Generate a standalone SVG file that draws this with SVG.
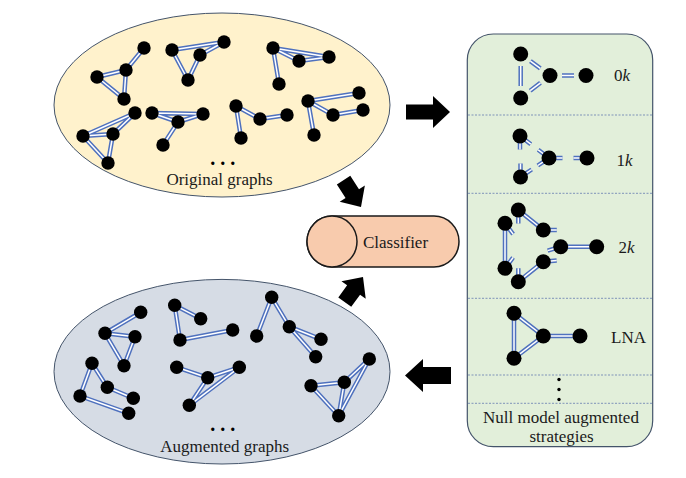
<svg xmlns="http://www.w3.org/2000/svg" xmlns:xlink="http://www.w3.org/1999/xlink" width="686" height="478" viewBox="0 0 686 478">
<style>
.eo{fill:none;stroke:#4f71be;stroke-width:4.5}
.ei{fill:none;stroke:#ffffff;stroke-width:1.5}
.n circle{fill:#000}
.t{font-family:"Liberation Serif","Times New Roman",serif;font-size:17px;fill:#1a1a1a}
.dots{font-family:"Liberation Serif","Times New Roman",serif;font-size:20px;font-weight:bold;fill:#000}
.sep{stroke:#7f93b8;stroke-width:1;stroke-dasharray:2 1.5}
.arrow{fill:#000}
</style>
<defs>
<path id="eA" d="M97,77L126,70M97,77L124,99M126,70L144,48M126,70L124,99"/>
<path id="eB" d="M172,50L224,42M172,50L188,80M188,80L200,55M200,55L224,42"/>
<path id="eC" d="M273,48L329,57M273,48L299,61M299,61L329,57M273,48L279,84"/>
<path id="eD" d="M83,136L135,113M83,136L113,134M113,134L135,113M83,136L108,163M113,134L108,163"/>
<path id="eE" d="M152,113L203,114M152,113L178,122M178,122L203,114M178,122L163,145"/>
<path id="eF" d="M236,106L260,119M260,119L287,115M236,106L241,138"/>
<path id="eG" d="M308,101L359,93M308,101L333,115M333,115L363,110M308,101L314,135"/>
<path id="eH" d="M105,333.3L140.7,312.3M105,333.3L135,336.7M105,333.3L124,365.7M135,336.7L124,365.7"/>
<path id="eI" d="M92,363.3L80,396M92,363.3L107.3,387.3M107.3,387.3L133.3,398.3M80,396L128.7,413.3"/>
<path id="eJ" d="M174.7,305.3L200.7,318.7M174.7,305.3L180,340M180,340L232.7,330"/>
<path id="eK" d="M176.7,367.3L207.7,377.7M207.7,377.7L239.3,367.3M207.7,377.7L189.3,405.3M189.3,405.3L239.3,367.3"/>
<path id="eL" d="M271.7,297.3L256.7,336M271.7,297.3L289.3,326.7M289.3,326.7L321,339.3M289.3,326.7L315.7,356.7"/>
<path id="eM" d="M311,385.7L344.3,382.3M344.3,382.3L369.3,359M311,385.7L338.7,415.7M344.3,382.3L338.7,415.7M338.7,415.7L369.3,359"/>
<path id="e0k" d="M530.4,61.1L540.3,68.4M520.7,66L520.7,86M530.2,90.7L540.5,82.8M562,75.5L574,75.5"/>
<path id="e1k" d="M524,139L530.8,144.2M520,141L520,149.5M545,155L538.2,149.8M544.8,160.8L537.8,165.5M554,158L562.5,158M582,158L573.5,158M520.5,172L520.5,163.5M524.7,174.2L531.7,169.5"/>
<path id="e2k" d="M518.3,210L543.3,230M505,223.3L505,268.3M560.7,246.7L596.7,246.7M543.3,261.7L518.3,281.7M518.3,215L518.3,223.5M508,227.3L513.1,234.1M548.3,230L556.8,230M555.9,248.2L547.7,250.6M548.3,261.2L556.7,260.4M508,264.3L513.1,257.5M518.3,276.7L518.3,268.2"/>
<path id="eLNA" d="M514,313.3L543.3,336M514,313.3L514,358.3M514,358.3L543.3,336M543.3,336L580,336"/>
</defs>

<g id="original-graphs">
<ellipse cx="222" cy="105" rx="168" ry="92" fill="#fff2cc" stroke="#44546a" stroke-width="1"/>
<g id="og1" class="n"><use href="#eA" class="eo"/><use href="#eA" class="ei"/>
<circle cx="97" cy="77" r="6.7"/><circle cx="126" cy="70" r="6.7"/><circle cx="144" cy="48" r="6.7"/><circle cx="124" cy="99" r="6.7"/></g>
<g id="og2" class="n"><use href="#eB" class="eo"/><use href="#eB" class="ei"/>
<circle cx="172" cy="50" r="6.7"/><circle cx="200" cy="55" r="6.7"/><circle cx="224" cy="42" r="6.7"/><circle cx="188" cy="80" r="6.7"/></g>
<g id="og3" class="n"><use href="#eC" class="eo"/><use href="#eC" class="ei"/>
<circle cx="273" cy="48" r="6.7"/><circle cx="299" cy="61" r="6.7"/><circle cx="329" cy="57" r="6.7"/><circle cx="279" cy="84" r="6.7"/></g>
<g id="og4" class="n"><use href="#eD" class="eo"/><use href="#eD" class="ei"/>
<circle cx="83" cy="136" r="6.7"/><circle cx="113" cy="134" r="6.7"/><circle cx="135" cy="113" r="6.7"/><circle cx="108" cy="163" r="6.7"/></g>
<g id="og5" class="n"><use href="#eE" class="eo"/><use href="#eE" class="ei"/>
<circle cx="152" cy="113" r="6.7"/><circle cx="203" cy="114" r="6.7"/><circle cx="178" cy="122" r="6.7"/><circle cx="163" cy="145" r="6.7"/></g>
<g id="og6" class="n"><use href="#eF" class="eo"/><use href="#eF" class="ei"/>
<circle cx="236" cy="106" r="6.7"/><circle cx="260" cy="119" r="6.7"/><circle cx="287" cy="115" r="6.7"/><circle cx="241" cy="138" r="6.7"/></g>
<g id="og7" class="n"><use href="#eG" class="eo"/><use href="#eG" class="ei"/>
<circle cx="308" cy="101" r="6.7"/><circle cx="359" cy="93" r="6.7"/><circle cx="333" cy="115" r="6.7"/><circle cx="363" cy="110" r="6.7"/><circle cx="314" cy="135" r="6.7"/></g>
<text class="dots" x="222.7" y="165" text-anchor="middle">. . .</text>
<text class="t" x="219.5" y="185" text-anchor="middle">Original graphs</text>
</g>

<g id="augmented-graphs">
<ellipse cx="222" cy="371.7" rx="168" ry="92.3" fill="#d6dce5" stroke="#44546a" stroke-width="1"/>
<g id="ag1" class="n"><use href="#eH" class="eo"/><use href="#eH" class="ei"/>
<circle cx="140.7" cy="312.3" r="6.7"/><circle cx="105" cy="333.3" r="6.7"/><circle cx="135" cy="336.7" r="6.7"/><circle cx="124" cy="365.7" r="6.7"/></g>
<g id="ag2" class="n"><use href="#eI" class="eo"/><use href="#eI" class="ei"/>
<circle cx="92" cy="363.3" r="6.7"/><circle cx="80" cy="396" r="6.7"/><circle cx="107.3" cy="387.3" r="6.7"/><circle cx="133.3" cy="398.3" r="6.7"/><circle cx="128.7" cy="413.3" r="6.7"/></g>
<g id="ag3" class="n"><use href="#eJ" class="eo"/><use href="#eJ" class="ei"/>
<circle cx="174.7" cy="305.3" r="6.7"/><circle cx="200.7" cy="318.7" r="6.7"/><circle cx="180" cy="340" r="6.7"/><circle cx="232.7" cy="330" r="6.7"/></g>
<g id="ag4" class="n"><use href="#eK" class="eo"/><use href="#eK" class="ei"/>
<circle cx="176.7" cy="367.3" r="6.7"/><circle cx="207.7" cy="377.7" r="6.7"/><circle cx="239.3" cy="367.3" r="6.7"/><circle cx="189.3" cy="405.3" r="6.7"/></g>
<g id="ag5" class="n"><use href="#eL" class="eo"/><use href="#eL" class="ei"/>
<circle cx="271.7" cy="297.3" r="6.7"/><circle cx="256.7" cy="336" r="6.7"/><circle cx="289.3" cy="326.7" r="6.7"/><circle cx="321" cy="339.3" r="6.7"/><circle cx="315.7" cy="356.7" r="6.7"/></g>
<g id="ag6" class="n"><use href="#eM" class="eo"/><use href="#eM" class="ei"/>
<circle cx="311" cy="385.7" r="6.7"/><circle cx="344.3" cy="382.3" r="6.7"/><circle cx="369.3" cy="359" r="6.7"/><circle cx="338.7" cy="415.7" r="6.7"/></g>
<text class="dots" x="222.7" y="431" text-anchor="middle">. . .</text>
<text class="t" x="224.7" y="452" text-anchor="middle">Augmented graphs</text>
</g>

<g id="classifier">
<path d="M332,216L434,216A25,25.5 0 0 1 434,267L332,267A25,25.5 0 0 1 332,216Z" fill="#f8cbad" stroke="#1a1a1a" stroke-width="1.5"/>
<ellipse cx="332" cy="241.5" rx="25" ry="25.5" fill="#f8cbad" stroke="#1a1a1a" stroke-width="1.5"/>
<text class="t" x="395.5" y="248" text-anchor="middle">Classifier</text>
</g>

<g id="strategies">
<rect x="467.3" y="34" width="185.4" height="412.7" rx="26" ry="26" fill="#e2efda" stroke="#44546a" stroke-width="1.2"/>
<g id="separators">
<line class="sep" x1="468" y1="115" x2="652" y2="115"/>
<line class="sep" x1="468" y1="193.3" x2="652" y2="193.3"/>
<line class="sep" x1="468" y1="298.3" x2="652" y2="298.3"/>
<line class="sep" x1="468" y1="375" x2="652" y2="375"/>
<line class="sep" x1="468" y1="403.3" x2="652" y2="403.3"/>
</g>
<g id="s0k" class="n"><use href="#e0k" class="eo"/><use href="#e0k" class="ei"/>
<circle cx="520.7" cy="54" r="7.5"/><circle cx="550" cy="75.5" r="7.5"/><circle cx="586" cy="75.5" r="7.5"/><circle cx="520.7" cy="98" r="7.5"/>
<text class="t" x="614" y="81">0<tspan font-style="italic">k</tspan></text></g>
<g id="s1k" class="n"><use href="#e1k" class="eo"/><use href="#e1k" class="ei"/>
<circle cx="520" cy="136" r="7.5"/><circle cx="549" cy="158" r="7.5"/><circle cx="587" cy="158" r="7.5"/><circle cx="520.5" cy="177" r="7.5"/>
<text class="t" x="616.5" y="166">1<tspan font-style="italic">k</tspan></text></g>
<g id="s2k" class="n"><use href="#e2k" class="eo"/><use href="#e2k" class="ei"/>
<circle cx="518.3" cy="210" r="7.5"/><circle cx="505" cy="223.3" r="7.5"/><circle cx="543.3" cy="230" r="7.5"/><circle cx="560.7" cy="246.7" r="7.5"/><circle cx="596.7" cy="246.7" r="7.5"/><circle cx="543.3" cy="261.7" r="7.5"/><circle cx="505" cy="268.3" r="7.5"/><circle cx="518.3" cy="281.7" r="7.5"/>
<text class="t" x="618.5" y="253">2<tspan font-style="italic">k</tspan></text></g>
<g id="sLNA" class="n"><use href="#eLNA" class="eo"/><use href="#eLNA" class="ei"/>
<circle cx="514" cy="313.3" r="7.5"/><circle cx="543.3" cy="336" r="7.5"/><circle cx="580" cy="336" r="7.5"/><circle cx="514" cy="358.3" r="7.5"/>
<text class="t" x="611" y="342.7">LNA</text></g>
<g id="vdots"><circle cx="559" cy="379.5" r="1.7"/><circle cx="559" cy="389.5" r="1.7"/><circle cx="559" cy="399.5" r="1.7"/></g>
<text class="t" x="561" y="422.7" text-anchor="middle">Null model augmented</text>
<text class="t" x="561.5" y="441.7" text-anchor="middle">strategies</text>
</g>

<g id="connectors" class="arrow">
<polygon transform="translate(450,112)" points="0,0 -17,-16 -17,-7.5 -44,-7.5 -44,7.5 -17,7.5 -17,16"/>
<polygon transform="translate(405,375.5) rotate(180)" points="0,0 -18,-16.5 -18,-8.5 -46,-8.5 -46,8.5 -18,8.5 -18,16.5"/>
<polygon transform="translate(361,207) rotate(57)" points="0,0 -16,-15 -16,-8 -32,-8 -32,8 -16,8 -16,15"/>
<polygon transform="translate(363,277) rotate(-54)" points="0,0 -16,-15 -16,-8 -31,-8 -31,8 -16,8 -16,15"/>
</g>
</svg>
